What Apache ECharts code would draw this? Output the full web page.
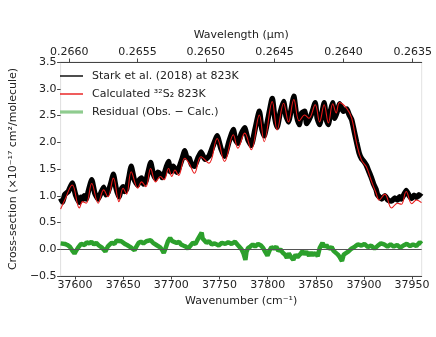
<!DOCTYPE html>
<html>
<head>
<meta charset="utf-8">
<script src="https://cdn.jsdelivr.net/npm/echarts@6/dist/echarts.min.js"></script>
<style>
  html, body { margin: 0; padding: 0; background: #fff; }
  #chart { width: 436px; height: 337px; }
</style>
</head>
<body>
<div id="chart"></div>
<script>
// Stark et al. (2018) observed cross-section: wavenumber (cm-1) / value (1e-17 cm2/molecule)
var obsWn = [37585, 37587, 37589.3, 37593, 37597.1, 37600.5, 37604.5, 37606, 37607.8, 37609.5,
             37611.6, 37614, 37617.3, 37620.5, 37624.0, 37627, 37629.7, 37632, 37634.1, 37637,
             37639.8, 37642.5, 37645.6, 37648, 37649.9, 37651.5, 37653.5, 37656, 37658.3, 37661.5,
             37665.1, 37667, 37669.1, 37671, 37673.5, 37676, 37678.5, 37681, 37683.6, 37686,
             37688.6, 37690.5, 37692.4, 37695, 37697.1, 37699, 37700.5, 37702, 37703.8, 37705.5,
             37707.5, 37711, 37713.9, 37716, 37718.6, 37721, 37724.0, 37727.5, 37730.8, 37735,
             37739.1, 37743, 37747.6, 37751.5, 37755.3, 37760, 37764.4, 37766.5, 37769.1, 37772.5,
             37776.2, 37779.5, 37783.0, 37787, 37791.4, 37794, 37796.4, 37800.5, 37804.8, 37807.5,
             37809.9, 37813, 37816.6, 37819, 37821.7, 37824.5, 37827.2, 37830, 37832.8, 37835.5,
             37838.5, 37840.5, 37842.9, 37846, 37849.4, 37851.5, 37854.0, 37856.5, 37858.7, 37861,
             37863.1, 37865.5, 37867.6, 37869.5, 37871.2, 37873, 37874.7, 37878.5, 37882.3, 37884.5,
             37887.3, 37890, 37892.4, 37895, 37897.4, 37900, 37902.5, 37905, 37907.5, 37910,
             37912.6, 37914, 37915.9, 37918.5, 37921.7, 37925, 37928.7, 37932, 37934.8, 37937,
             37938.8, 37941.5, 37943.9, 37947, 37949.7, 37952, 37954.7, 37957, 37959.8];
var obsVals = [0.95, 0.88, 1.02, 1.08, 1.24, 1.02, 0.88, 0.97, 0.93, 1.00,
               0.94, 1.10, 1.30, 1.05, 0.94, 1.06, 1.16, 1.02, 1.06, 1.22,
               1.40, 1.15, 0.98, 1.12, 1.17, 1.08, 1.12, 1.35, 1.55, 1.30,
               1.20, 1.30, 1.33, 1.22, 1.27, 1.45, 1.62, 1.42, 1.32, 1.44,
               1.40, 1.34, 1.40, 1.55, 1.64, 1.45, 1.47, 1.55, 1.50, 1.44,
               1.50, 1.68, 1.84, 1.72, 1.70, 1.58, 1.55, 1.70, 1.82, 1.68,
               1.74, 1.92, 2.12, 1.88, 1.74, 2.02, 2.24, 2.05, 1.98, 2.15,
               2.27, 2.05, 1.94, 2.25, 2.58, 2.25, 2.12, 2.45, 2.82, 2.45,
               2.28, 2.55, 2.76, 2.50, 2.38, 2.62, 2.86, 2.50, 2.33, 2.55,
               2.58, 2.35, 2.42, 2.55, 2.74, 2.45, 2.33, 2.55, 2.74, 2.42,
               2.33, 2.60, 2.74, 2.45, 2.52, 2.62, 2.72, 2.58, 2.62, 2.52,
               2.42, 2.20, 2.00, 1.80, 1.70, 1.64, 1.57, 1.46, 1.35, 1.22,
               1.12, 1.02, 0.98, 0.94, 1.00, 0.92, 0.90, 0.96, 0.92, 0.98,
               0.94, 1.02, 1.10, 1.00, 0.95, 1.01, 0.97, 1.02, 0.98];
// calculated 32S2 cross-section
var calcWn = [37585, 37589.3, 37597.1, 37604.5, 37607.8, 37611.6, 37617.3, 37624.0, 37629.7, 37634.1,
              37639.8, 37645.6, 37649.9, 37653.5, 37658.3, 37665.1, 37669.1, 37673.5, 37678.5, 37683.6,
              37688.6, 37692.4, 37697.1, 37700.5, 37703.8, 37707.5, 37713.9, 37718.6, 37724.0, 37730.8,
              37739.1, 37747.6, 37755.3, 37764.4, 37769.1, 37776.2, 37783.0, 37791.4, 37796.4, 37804.8,
              37809.9, 37816.6, 37821.7, 37827.2, 37832.8, 37838.5, 37842.9, 37849.4, 37854.0, 37858.7,
              37863.1, 37867.6, 37871.2, 37874.7, 37882.3, 37887.3, 37892.4, 37897.4, 37902.5, 37907.5,
              37912.6, 37915.9, 37921.7, 37928.7, 37934.8, 37938.8, 37943.9, 37949.7, 37954.7, 37959.8];
var calcVals = [0.75, 0.92, 1.20, 0.77, 0.89, 0.86, 1.23, 0.86, 1.11, 0.98,
                1.33, 0.89, 1.14, 1.03, 1.45, 1.14, 1.26, 1.17, 1.51, 1.26,
                1.36, 1.30, 1.51, 1.36, 1.48, 1.38, 1.70, 1.60, 1.42, 1.73,
                1.61, 2.07, 1.64, 2.14, 1.89, 2.17, 1.86, 2.51, 2.01, 2.76,
                2.23, 2.73, 2.38, 2.80, 2.40, 2.51, 2.45, 2.70, 2.38, 2.70,
                2.36, 2.72, 2.55, 2.74, 2.63, 2.45, 1.98, 1.67, 1.54, 1.29,
                1.05, 0.92, 1.03, 0.77, 0.86, 0.84, 1.08, 0.85, 0.92, 0.87];
// residual (obs - calc)
var resWn = [37585, 37587, 37589.4, 37592, 37594.4, 37597, 37599.4, 37601, 37602.8, 37604.5,
             37606.2, 37610, 37612, 37614.6, 37617, 37619.6, 37622, 37624.7, 37628, 37631.5,
             37634, 37636, 37638.1, 37641, 37643, 37644.9, 37648, 37651.7, 37654, 37656.7,
             37659, 37661.8, 37664, 37666, 37668.4, 37671, 37674, 37676, 37678.5, 37681,
             37683, 37685.3, 37688, 37690, 37692.1, 37694, 37696.5, 37698.7, 37701, 37703,
             37705.5, 37708, 37710, 37712.3, 37715, 37717.3, 37719.5, 37722.4, 37725, 37727,
             37729.0, 37731.5, 37732.5, 37734.1, 37736.5, 37739.1, 37742, 37745, 37749.2, 37752.5,
             37756.0, 37759, 37762.5, 37766.1, 37769, 37771, 37772.9, 37775, 37776.9, 37778,
             37779.6, 37782, 37784.6, 37787, 37790, 37793.1, 37795.5, 37797.5, 37799.8, 37802,
             37804, 37806.5, 37809, 37811, 37813.3, 37815.5, 37818, 37820.0, 37822, 37824,
             37826.7, 37829, 37831, 37833.5, 37836, 37838, 37840.2, 37843, 37845, 37847.0,
             37849.5, 37852.0, 37854, 37857.0, 37859, 37861, 37863.8, 37866.5, 37868.5, 37870.5,
             37873, 37875, 37877.2, 37879, 37881, 37884.0, 37887, 37890.7, 37893.5, 37897.4,
             37900.5, 37904.2, 37907.5, 37911.0, 37914, 37917.6, 37921, 37924.5, 37927.7, 37931,
             37934.5, 37937.8, 37941, 37944.5, 37947.9, 37951, 37954.5, 37958.0, 37960];
var resVals = [0.11, 0.14, 0.10, 0.08, 0.05, -0.02, -0.08, -0.03, 0.02, 0.04,
               0.10, 0.08, 0.13, 0.11, 0.14, 0.09, 0.12, 0.07, 0.03, -0.04,
               0.05, 0.09, 0.12, 0.10, 0.16, 0.13, 0.15, 0.10, 0.08, 0.05,
               0.02, -0.02, 0.06, 0.12, 0.14, 0.11, 0.15, 0.13, 0.17, 0.12,
               0.09, 0.07, 0.04, 0.00, -0.07, 0.02, 0.15, 0.21, 0.15, 0.17,
               0.12, 0.14, 0.09, 0.07, 0.05, 0.01, 0.06, 0.12, 0.10, 0.17,
               0.19, 0.31, 0.20, 0.17, 0.12, 0.15, 0.09, 0.11, 0.07, 0.12,
               0.10, 0.13, 0.10, 0.14, 0.08, 0.05, 0.00, -0.08, -0.20, -0.05,
               0.02, 0.05, 0.09, 0.05, 0.10, 0.07, 0.02, -0.05, -0.12, -0.02,
               0.04, 0.01, 0.05, -0.03, 0.00, -0.06, -0.10, -0.16, -0.08, -0.14,
               -0.20, -0.10, -0.15, -0.10, -0.04, -0.09, -0.05, -0.12, -0.06, -0.11,
               -0.07, -0.13, 0.02, 0.12, 0.04, 0.08, 0.01, 0.04, -0.03, -0.06,
               -0.10, -0.15, -0.22, -0.10, -0.12, -0.04, 0.01, 0.05, 0.09, 0.07,
               0.10, 0.04, 0.07, 0.01, 0.06, 0.11, 0.09, 0.05, 0.09, 0.05,
               0.08, 0.03, 0.07, 0.10, 0.06, 0.09, 0.06, 0.13, 0.10];
var wnTicks = [37600, 37650, 37700, 37750, 37800, 37850, 37900, 37950];
var wlTicks = [0.2660, 0.2655, 0.2650, 0.2645, 0.2640, 0.2635];

var font = 'DejaVu Sans';
var textColor = '#222';
var axisColor = '#444';
var thinIcon = 'path://M0,0H23V1.4H0Z';
var thickIcon = 'path://M0,0H23V3.2H0Z';

function pairs(xs, ys) {
    var out = [];
    for (var i = 0; i < xs.length; i++) {
        out.push([xs[i], ys[i]]);
    }
    return out;
}

// top axis ticks sit at the wavenumber of each wavelength
var wlPos = wlTicks.map(function(w) { return 1e4 / w; });

var chart = echarts.init(document.getElementById('chart'));

var option = {
    animation: false,
    backgroundColor: '#fff',
    grid: {
        left: 50.7, right: 14.3, top: 62, bottom: 61,
        show: true, borderColor: '#e2e2e2', borderWidth: 1
    },
    legend: {
        orient: 'vertical',
        left: 60, top: 70, padding: 0,
        symbolKeepAspect: true,
        itemWidth: 23, itemHeight: 4, itemGap: 6,
        textStyle: { fontFamily: font, fontSize: 11, lineHeight: 12, color: textColor, padding: [0, 0, 0, 4] },
        data: [
            { name: 'Stark et al. (2018) at 823K', icon: thinIcon, itemStyle: { color: '#000' } },
            { name: 'Calculated \u00b3\u00b2S\u2082 823K', icon: thinIcon, itemStyle: { color: '#e81818' } },
            { name: 'Residual (Obs. \u2212 Calc.)', icon: thickIcon, itemStyle: { color: '#8fcc8f' } }
        ]
    },
    xAxis: [{
        type: 'value', position: 'bottom',
        min: 37585, max: 37960,
        name: 'Wavenumber (cm\u207b\u00b9)', nameLocation: 'middle', nameGap: 17,
        nameTextStyle: { fontFamily: font, fontSize: 11, color: textColor },
        axisLine: { show: true, onZero: false, lineStyle: { color: axisColor, width: 1 } },
        axisTick: { show: true, length: 3.5, customValues: wnTicks, lineStyle: { color: axisColor } },
        axisLabel: {
            customValues: wnTicks, margin: 4, fontFamily: font, fontSize: 11, color: textColor,
            formatter: function(v) { return String(Math.round(v)); }
        },
        splitLine: { show: false }
    }, {
        type: 'value', position: 'top',
        min: 37585, max: 37960,
        name: 'Wavelength (\u03bcm)', nameLocation: 'middle', nameGap: 21,
        nameTextStyle: { fontFamily: font, fontSize: 11, color: textColor },
        axisLine: { show: true, onZero: false, lineStyle: { color: axisColor, width: 1 } },
        axisTick: { show: true, length: 3.5, customValues: wlPos, lineStyle: { color: axisColor } },
        axisLabel: {
            customValues: wlPos, margin: 4, fontFamily: font, fontSize: 11, color: textColor,
            formatter: function(v) { return (1e4 / v).toFixed(4); }
        },
        splitLine: { show: false }
    }],
    yAxis: {
        type: 'value',
        min: -0.5, max: 3.5, interval: 0.5,
        name: 'Cross-section (\u00d710\u207b\u00b9\u2077 cm\u00b2/molecule)', nameLocation: 'middle', nameGap: 33,
        nameTextStyle: { fontFamily: font, fontSize: 11, color: textColor },
        axisLine: { show: true, lineStyle: { color: '#e2e2e2' } },
        axisTick: { show: true, length: 3.5, lineStyle: { color: axisColor } },
        axisLabel: {
            margin: 4, fontFamily: font, fontSize: 11, color: textColor,
            formatter: function(v) { return (v < 0 ? '\u2212' : '') + Math.abs(v).toFixed(1); }
        },
        splitLine: { show: false }
    },
    series: [{
        name: 'zero',
        type: 'line', data: [], z: 1,
        markLine: {
            silent: true, symbol: 'none', label: { show: false },
            lineStyle: { color: '#555', width: 1, type: 'solid' },
            data: [{ yAxis: 0 }]
        }
    }, {
        name: 'Stark et al. (2018) at 823K',
        type: 'line', symbol: 'none', smooth: 0.15, z: 2,
        lineStyle: { color: '#000', width: 5.5 },
        itemStyle: { color: '#000' },
        data: pairs(obsWn, obsVals)
    }, {
        name: 'Calculated \u00b3\u00b2S\u2082 823K',
        type: 'line', symbol: 'none', smooth: 0.4, z: 3,
        lineStyle: { color: '#e81818', width: 1.1 },
        itemStyle: { color: '#e81818' },
        data: pairs(calcWn, calcVals)
    }, {
        name: 'Residual (Obs. \u2212 Calc.)',
        type: 'line', symbol: 'none', smooth: false, z: 2,
        lineStyle: { color: '#2ca02c', width: 4.5 },
        itemStyle: { color: '#2ca02c' },
        data: pairs(resWn, resVals)
    }]
};

chart.setOption(option);
</script>
</body>
</html>
